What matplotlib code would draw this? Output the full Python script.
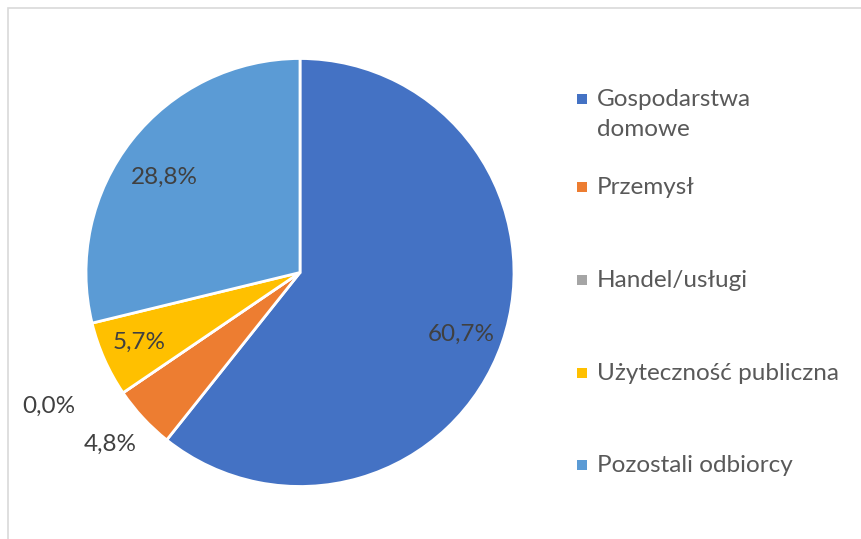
import matplotlib
matplotlib.use("Agg")
import matplotlib.pyplot as plt
from matplotlib.patches import Rectangle
import numpy as np

labels = ["Gospodarstwa\ndomowe", "Przemysł", "Handel/usługi",
          "Użyteczność publiczna", "Pozostali odbiorcy"]
values = [60.7, 4.8, 0.0, 5.7, 28.8]
pct_text = ["60,7%", "4,8%", "0,0%", "5,7%", "28,8%"]
colors = ["#4472C4", "#ED7D31", "#A5A5A5", "#FFC000", "#5B9BD5"]

plt.rcParams["font.family"] = ["Lato", "DejaVu Sans"]

fig = plt.figure(figsize=(8.62, 5.39), dpi=100)
W, H = 862, 539

# chart frame (cut off on the right and bottom like the source)
fig.patches.append(Rectangle((8 / W, -0.1), 1.2, (H - 8) / H + 0.1,
                             transform=fig.transFigure, fill=False,
                             edgecolor="#D9D9D9", linewidth=1.2))

ax = fig.add_axes([86 / W, 52 / H, 428 / W, 429 / H])
wedges, _ = ax.pie(values, colors=colors, startangle=90, counterclock=False,
                   radius=1.0,
                   wedgeprops=dict(edgecolor="white", linewidth=2))
ax.set_xlim(-1, 1)
ax.set_ylim(-1, 1)
ax.set_aspect("equal")
ax.axis("off")

# data labels: inside for big slices, outside for small ones
dist = [0.78, 1.18, 1.33, 0.81, 0.78]
nudge = [(0.015, -0.03), (-0.02, 0), (-0.075, 0.12), (-0.01, 0), (-0.02, -0.035)]
for w, t, d, (nx, ny) in zip(wedges, pct_text, dist, nudge):
    ang = np.deg2rad((w.theta1 + w.theta2) / 2)
    ax.text(d * np.cos(ang) + nx, d * np.sin(ang) + ny, t,
            ha="center", va="center", fontsize=17.5, color="#404040")

# legend on the right
leg_y = [99, 187, 280, 373, 465]
for lab, c, y in zip(labels, colors, leg_y):
    fig.patches.append(Rectangle((577 / W, 1 - (y + 5) / H), 10 / W, 10 / H,
                                 transform=fig.transFigure, facecolor=c,
                                 edgecolor="none"))
    fig.text(597 / W, 1 - (y - 10) / H, lab, ha="left", va="top",
             fontsize=17.5, color="#595959", linespacing=1.5)

fig.savefig("out.png", dpi=100)
